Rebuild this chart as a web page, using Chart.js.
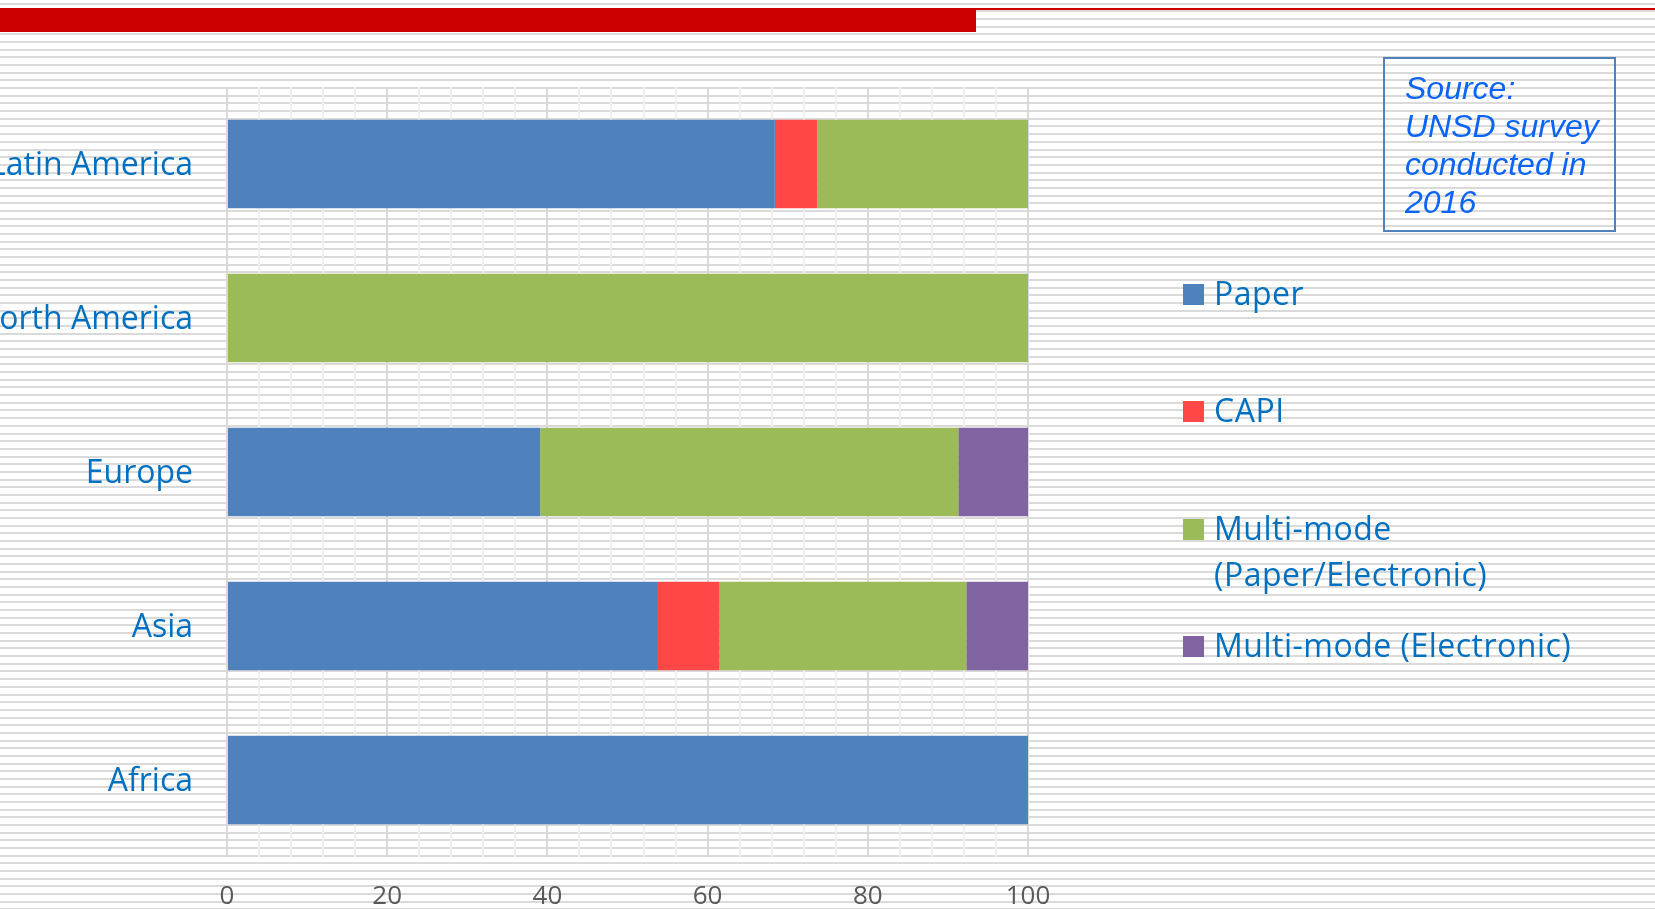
<!DOCTYPE html>
<html>
<head>
<meta charset="utf-8">
<script src="https://cdn.jsdelivr.net/npm/chart.js@4.4.1/dist/chart.umd.min.js"></script>
<style>
html,body{margin:0;padding:0;width:1655px;height:909px;overflow:hidden;background:#ffffff;}
#stage{position:relative;width:1655px;height:909px;}
#chart{position:absolute;left:0;top:0;}
#redline{position:absolute;left:0;top:8px;width:1655px;height:2px;background:#cc0000;}
#redbar{position:absolute;left:0;top:8px;width:976px;height:24px;background:#cc0000;}
#source{position:absolute;left:1383px;top:57px;width:229px;height:171px;border:2px solid #4f81bd;
  box-sizing:content-box;font-family:'Liberation Sans',Arial,sans-serif;font-style:italic;font-size:32px;
  line-height:38px;color:#0a64f5;padding:0;}
#source .txt{position:absolute;left:20px;top:10px;white-space:nowrap;}
#legend{position:absolute;left:1183px;top:270px;font-family:'Open Sans',sans-serif;font-size:32px;letter-spacing:0.5px;line-height:46px;color:#0070c0;}
.item{position:relative;height:117.3px;}
.sw{position:absolute;left:0;top:14px;width:21px;height:21px;}
.lt{position:absolute;left:31px;top:0;width:410px;}
.w{white-space:nowrap;}
</style>
</head>
<body>
<div id="stage">
  <canvas id="chart" width="1655" height="909"></canvas>
  <div id="redline"></div>
  <div id="redbar"></div>
  <div id="source"><div class="txt">Source:<br>UNSD survey<br>conducted in<br>2016</div></div>
  <div id="legend"></div>
</div>
<script>
// ---- data ----
const categories = ['Latin America', 'North America', 'Europe', 'Asia', 'Africa'];
const seriesNames = ['Paper', 'CAPI', 'Multi-mode (Paper/Electronic)', 'Multi-mode (Electronic)'];
const paper = [68.4, 0, 39.1, 53.8, 100];
const capi = [5.3, 0, 0, 7.7, 0];
const multiPaperElectronic = [26.3, 100, 52.2, 30.8, 0];
const multiElectronic = [0, 0, 8.7, 7.7, 0];
const xTickLabels = [0, 20, 40, 60, 80, 100];
const seriesColors = ['#4f81bd', '#ff4747', '#9bbb59', '#8064a2'];

Chart.defaults.font.family = "'Open Sans', 'Noto Sans', sans-serif";

const stripes = {
  id: 'stripes',
  beforeDraw(chart) {
    const ctx = chart.ctx;
    ctx.save();
    ctx.fillStyle = '#dadada';
    for (let k = 0; ; k++) {
      const y = Math.round(2.67 + k * 7.676);
      if (y > chart.height) break;
      ctx.fillRect(0, y, chart.width, 2);
    }
    ctx.restore();
  }
};

const seriesValues = [paper, capi, multiPaperElectronic, multiElectronic];

const chart = new Chart(document.getElementById('chart'), {
  type: 'bar',
  data: {
    labels: categories,
    datasets: seriesNames.map((name, i) => ({
      label: name,
      data: seriesValues[i],
      backgroundColor: seriesColors[i],
      borderWidth: 0,
      categoryPercentage: 1,
      barPercentage: 0.576
    }))
  },
  plugins: [stripes],
  options: {
    indexAxis: 'y',
    responsive: false,
    animation: false,
    layout: { padding: { top: 87, right: 627, left: 0, bottom: 0 } },
    plugins: { legend: { display: false }, tooltip: { enabled: false } },
    scales: {
      x: {
        stacked: true,
        min: 0,
        max: 100,
        ticks: {
          stepSize: 4,
          autoSkip: false,
          maxRotation: 0,
          padding: 24,
          color: '#595959',
          font: { size: 26 },
          callback: (v) => xTickLabels.includes(Math.round(v)) ? String(Math.round(v)) : ''
        },
        grid: {
          drawTicks: false,
          color: (c) => (c.tick && xTickLabels.includes(Math.round(c.tick.value))) ? '#d9d9d9' : '#efefef',
          lineWidth: 2
        },
        border: { display: false },
        afterFit: (s) => { s.height = 52; }
      },
      y: {
        stacked: true,
        grid: { display: false },
        border: { display: false },
        ticks: { padding: 26, labelOffset: 2, color: '#0070c0', font: { size: 32 } },
        afterFit: (s) => { s.width = 227; }
      }
    }
  }
});

// HTML legend built from the chart's datasets
const legend = document.getElementById('legend');
chart.data.datasets.forEach(ds => {
  const item = document.createElement('div');
  item.className = 'item';
  const sw = document.createElement('div');
  sw.className = 'sw';
  sw.style.background = ds.backgroundColor;
  const lt = document.createElement('div');
  lt.className = 'lt';
  ds.label.split(' ').forEach((w, i) => {
    if (i > 0) lt.appendChild(document.createTextNode(' '));
    const s = document.createElement('span');
    s.className = 'w';
    s.textContent = w;
    lt.appendChild(s);
  });
  item.appendChild(sw);
  item.appendChild(lt);
  legend.appendChild(item);
});
</script>
</body>
</html>
